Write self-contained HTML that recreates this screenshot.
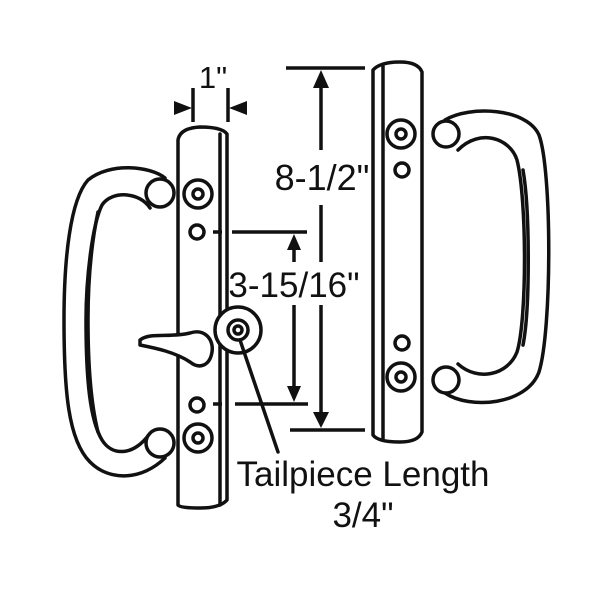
<!DOCTYPE html>
<html><head><style>body{margin:0;background:#fff}svg{display:block}</style></head>
<body>
<svg width="600" height="600" viewBox="0 0 600 600" xmlns="http://www.w3.org/2000/svg" font-family="Liberation Sans, sans-serif">
<g fill="none" stroke="#111" stroke-width="3.5" stroke-linejoin="round" stroke-linecap="round">
<!-- left handle -->
<path d="M165,178 C150,166 110,162 88,180 C70,200 64,260 64,320 C64,390 68,440 90,462 C110,482 142,480 165,458"/>
<path d="M150,208 C140,192 112,190 102,205 C92,225 86,280 86,320 C86,380 90,420 102,440 C112,456 132,456 148,436"/>
<path d="M98,212 C90,250 88,290 88,320 C88,360 90,400 98,432"/>
<circle cx="160" cy="193" r="14" fill="#fff"/>
<circle cx="160" cy="443" r="14" fill="#fff"/>
<!-- left plate -->
<path d="M178,505 L178,140 Q180,128 200,127 Q222,127 227,134 L227,500 Q220,508 200,508 Q180,508 178,505 Z" fill="#fff"/>
<line x1="220" y1="134" x2="220" y2="505"/>
<circle cx="198" cy="194" r="14"/><circle cx="198" cy="194" r="5"/>
<circle cx="197" cy="232" r="7"/>
<circle cx="197" cy="405" r="7"/>
<circle cx="198" cy="438" r="14"/><circle cx="198" cy="438" r="5"/>
<!-- lever -->
<path d="M140,340 C150,332 170,338 190,333 C205,328 214,340 212,352 C210,365 200,370 190,362 C175,352 155,348 140,345 Z" fill="#fff"/>
<!-- rosette -->
<circle cx="238" cy="330" r="23" fill="#fff"/>
<circle cx="238" cy="330" r="10"/>
<circle cx="238" cy="330" r="4"/>
<line x1="240" y1="340" x2="278" y2="452"/>
<!-- right plate -->
<path d="M373,70 Q380,62 400,62 Q418,62 422,72 L422,432 Q418,442 400,442 Q378,442 373,435 Z" fill="#fff"/>
<line x1="383" y1="66" x2="383" y2="440"/>
<circle cx="401" cy="134" r="14"/><circle cx="401" cy="134" r="5"/>
<circle cx="402" cy="170" r="7"/>
<circle cx="402" cy="343" r="7"/>
<circle cx="401" cy="377" r="14"/><circle cx="401" cy="377" r="5"/>
<!-- right handle -->
<path d="M445,120 C470,105 527,108 539,135 C552,170 552,330 539,372 C527,405 470,410 445,393"/>
<path d="M458,150 C480,128 510,138 517,160 C527,200 527,320 517,352 C508,375 478,382 458,364"/>
<path d="M523,170 C530,210 530,310 523,345"/>
<circle cx="446" cy="134" r="13" fill="#fff"/>
<circle cx="446" cy="380" r="13" fill="#fff"/>
</g>
<g stroke="#111" stroke-width="3.5" fill="none">
<line x1="193" y1="88" x2="193" y2="122"/><line x1="228" y1="88" x2="228" y2="122"/>
<line x1="286" y1="68" x2="365" y2="68"/><line x1="290" y1="430" x2="365" y2="430"/>
<line x1="321" y1="85" x2="321" y2="150"/><line x1="321" y1="205" x2="321" y2="262"/><line x1="321" y1="305" x2="321" y2="415"/>
<line x1="213" y1="232" x2="222" y2="232"/><line x1="232" y1="232" x2="307" y2="232"/>
<line x1="213" y1="404" x2="222" y2="404"/><line x1="235" y1="404" x2="308" y2="404"/>
<line x1="294" y1="248" x2="294" y2="262"/><line x1="294" y1="305" x2="294" y2="388"/>
</g>
<g fill="#111">
<polygon points="174,101 192,108 174,115"/><polygon points="247,101 229,108 247,115"/>
<polygon points="321,70 313,88 329,88"/><polygon points="321,428 313,412 329,412"/>
<polygon points="294,234 287,250 301,250"/><polygon points="294,402 287,386 301,386"/>
</g>
<g fill="#111">
<text x="213" y="88" font-size="31" text-anchor="middle">1"</text>
<text x="322" y="190" font-size="36" text-anchor="middle">8-1/2"</text>
<text x="294" y="297" font-size="35" text-anchor="middle">3-15/16"</text>
<text x="363" y="486" font-size="35" text-anchor="middle">Tailpiece Length</text>
<text x="363" y="527" font-size="35" text-anchor="middle">3/4"</text>
</g>
</svg>
</body></html>
